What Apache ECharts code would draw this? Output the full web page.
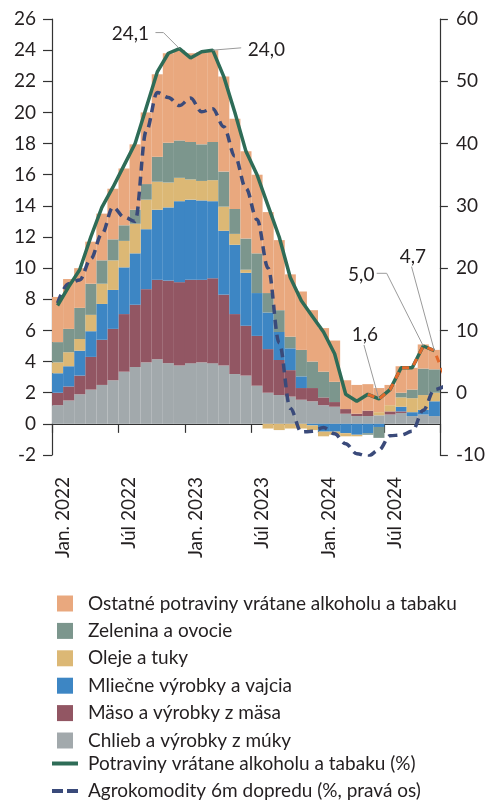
<!DOCTYPE html>
<html>
<head>
<meta charset="utf-8">
<script src="https://cdn.jsdelivr.net/npm/echarts@6/dist/echarts.min.js"></script>
<style>
  html, body { margin: 0; padding: 0; background: #fff; }
  #chart { width: 488px; height: 801px; }
</style>
</head>
<body>
<div id="chart"></div>
<script>
// mesiace (os x)
const years = [2022, 2023, 2024];
const monthNames = ['Jan.', 'Feb.', 'Mar.', 'Apr.', 'Máj', 'Jún', 'Júl', 'Aug.', 'Sep.', 'Okt.', 'Nov.', 'Dec.'];
const categories = [];
years.forEach(y => monthNames.forEach(m => categories.push(m + ' ' + y)));

// príspevky zložiek (p. b.)
const chlieb = [1.2, 1.5, 1.9, 2.2, 2.5, 2.8, 3.35, 3.65, 3.95, 4.15, 3.9, 3.75, 3.9, 3.95, 3.9, 3.75, 3.2, 3.1, 2.45, 2.0, 1.85, 1.75, 1.55, 1.45, 1.2, 1.1, 0.65, 0.5, 0.5, 0.55, 0.6, 0.7, 0.5, 0.6, 0.5];
const maso = [0.8, 0.9, 1.2, 2.1, 2.9, 3.3, 3.7, 4.0, 4.7, 5.1, 5.3, 5.35, 5.35, 5.3, 5.45, 4.55, 3.85, 3.2, 3.2, 2.8, 2.25, 1.7, 0.75, 0.85, 0.5, 0.3, 0.3, 0.15, 0.35, 0, 0.2, 0.1, 0, 0, 0];
const mliecne = [1.25, 1.3, 1.6, 1.65, 2.3, 2.5, 3.0, 3.3, 3.85, 4.5, 4.7, 5.2, 5.15, 5.1, 4.95, 4.1, 4.45, 3.4, 2.75, 2.35, 1.8, 1.4, 0.75, -0.1, -0.5, -0.5, -0.6, -0.7, -0.6, -0.2, 0, 0.3, 0.25, 0.3, 0.95];
const oleje = [0.7, 0.9, 0.75, 1.05, 1.3, 1.9, 1.7, 1.9, 1.9, 1.8, 1.6, 1.5, 1.3, 1.25, 1.35, 1.55, 0.7, 0.2, 0, -0.3, -0.4, -0.3, -0.3, -0.3, -0.3, -0.2, -0.2, -0.1, 0, 0.2, 0.4, 0.6, 0.9, 0.95, 0.55];
const zelenina = [1.3, 1.5, 2.0, 2.0, 1.5, 1.35, 1.0, 0.9, 1.0, 1.6, 2.55, 2.4, 2.4, 2.35, 2.45, 2.25, 1.6, 2.0, 2.55, 1.25, 1.4, 0.75, 1.7, 1.7, 1.65, 1.3, 0, 0, -0.1, -0.7, 0, 0.3, 0.55, 1.7, 1.5];
const ostatne = [2.9, 3.2, 2.55, 2.7, 3.0, 3.25, 3.65, 4.2, 4.6, 5.3, 5.75, 5.8, 5.7, 5.9, 5.9, 6.1, 5.8, 5.6, 5.05, 5.2, 4.5, 4.0, 3.75, 3.3, 2.8, 2.65, 1.85, 1.85, 1.7, 1.55, 1.3, 1.7, 1.4, 1.55, 1.25];

// potraviny spolu (%)
const potraviny = [7.6, 8.8, 9.9, 12.0, 13.9, 15.2, 16.6, 18.0, 20.3, 22.6, 23.8, 24.1, 23.5, 23.9, 24.0, 22.3, 20.0, 17.5, 16.0, 14.0, 12.0, 9.4, 7.9, 6.9, 5.9, 4.5, 1.9, 1.45, 1.9, 1.6, 2.2, 3.6, 3.6, 5.0, 4.7];
// oranžová prerušovaná čiara (posledné mesiace)
const potravinyNove = [null, null, null, null, null, null, null, null, null, null, null, null, null, null, null, null, null, null, null, null, null, null, null, null, null, null, null, null, 1.9, 1.6, 2.2, 3.6, 3.6, 5.0, 4.7, 2.9];
// agrokomodity posunuté o 6m (pravá os)
const agro = [14.4, 17.5, 18.1, 21.5, 25.5, 29.8, 28.2, 27.5, 42.0, 48.2, 47.4, 46.1, 47.3, 45.1, 45.6, 42.7, 38.0, 32.8, 27.8, 20.0, 8.0, -2.5, -6.3, -6.2, -5.6, -6.6, -8.2, -9.8, -10.2, -9.2, -6.9, -6.8, -6.2, -2.8, 0.5, 1.1];

// popisky hodnôt
const annotIdx = [11, 14, 29, 33, 34];
const annotText = ['24,1', '24,0', '1,6', '5,0', '4,7'];

const font = 'Lato, "Noto Sans", sans-serif';
const textColor = '#231f20';

const barNames = [
    'Chlieb a výrobky z múky',
    'Mäso a výrobky z mäsa',
    'Mliečne výrobky a vajcia',
    'Oleje a tuky',
    'Zelenina a ovocie',
    'Ostatné potraviny vrátane alkoholu a tabaku'
];
const barData = [chlieb, maso, mliecne, oleje, zelenina, ostatne];
const barColors = ['#a2a9ac', '#925663', '#3d86c4', '#dcb875', '#7c968d', '#e9a87e'];
const lineName = 'Potraviny vrátane alkoholu a tabaku (%)';
const agroName = 'Agrokomodity 6m dopredu (%, pravá os)';

const chart = echarts.init(document.getElementById('chart'));

const barSeries = barData.map((d, i) => ({
    name: barNames[i],
    type: 'bar',
    stack: 'spolu',
    barCategoryGap: '0%',
    data: d,
    itemStyle: { color: barColors[i] },
    emphasis: { disabled: true },
    z: 2
}));

const option = {
    animation: false,
    textStyle: { fontFamily: font },
    grid: { left: 52, right: 42, top: 19, bottom: 346 },
    legend: [
        {
            data: barNames.slice().reverse(),
            orient: 'vertical',
            left: 57,
            top: 594,
            padding: 0,
            itemWidth: 16,
            itemHeight: 16,
            itemGap: 8.4,
            icon: 'rect',
            textStyle: { fontFamily: font, fontSize: 19, color: textColor, padding: [0, 0, 0, 10] },
            selectedMode: false
        },
        {
            data: [
                { name: lineName, icon: 'rect' },
                { name: agroName, icon: 'path://M0,0h11v4h-11z M15,0h11v4h-11z' }
            ],
            orient: 'vertical',
            left: 52,
            top: 754,
            padding: 0,
            height: 60,
            itemWidth: 26,
            itemHeight: 4,
            itemGap: 8.4,
            textStyle: { fontFamily: font, fontSize: 19, color: textColor, padding: [0, 0, 0, 5] },
            selectedMode: false
        }
    ],
    xAxis: [
        {
            type: 'category',
            data: categories,
            max: 34,
            boundaryGap: true,
            axisLine: { show: false, onZero: false },
            axisTick: { show: false },
            axisLabel: {
                interval: 5,
                rotate: 90,
                margin: 22,
                fontSize: 19,
                color: textColor,
                fontFamily: font,
                verticalAlign: 'top',
                lineHeight: 10
            }
        },
        {
            type: 'category',
            data: categories,
            max: 34,
            boundaryGap: true,
            position: 'bottom',
            axisLine: { show: true, onZero: true, lineStyle: { color: '#333', width: 1.2 } },
            axisTick: { show: true, interval: 5, length: 9, lineStyle: { color: '#333', width: 1.2 } },
            axisLabel: { show: false }
        }
    ],
    yAxis: [
        {
            type: 'value',
            min: -2,
            max: 26,
            interval: 2,
            axisLine: { show: true, lineStyle: { color: '#333', width: 1.2 } },
            axisTick: { show: true, length: 9, lineStyle: { color: '#333', width: 1.2 } },
            splitLine: { show: false },
            axisLabel: { fontSize: 19, color: textColor, margin: 16, fontFamily: font }
        },
        {
            type: 'value',
            min: -10,
            max: 60,
            interval: 10,
            position: 'right',
            axisLine: { show: true, lineStyle: { color: '#333', width: 1.2 } },
            axisTick: { show: true, length: 8, lineStyle: { color: '#333', width: 1.2 } },
            splitLine: { show: false },
            axisLabel: { fontSize: 19, color: textColor, margin: 16, fontFamily: font }
        }
    ],
    series: [
        ...barSeries,
        {
            name: lineName,
            type: 'line',
            data: potraviny,
            symbol: 'none',
            lineStyle: { color: '#2e6c57', width: 3.5 },
            itemStyle: { color: '#2e6c57' },
            clip: true,
            z: 5
        },
        {
            name: 'nove',
            type: 'line',
            data: potravinyNove,
            symbol: 'none',
            lineStyle: { color: '#e3692b', width: 3, type: [7, 6] },
            itemStyle: { color: '#e3692b' },
            clip: true,
            z: 6
        },
        {
            name: agroName,
            type: 'line',
            yAxisIndex: 1,
            data: agro,
            symbol: 'none',
            smooth: 0.35,
            smoothMonotone: 'x',
            lineStyle: { color: '#3a4a7a', width: 3.5, type: [9, 6] },
            itemStyle: { color: '#3a4a7a' },
            clip: true,
            z: 4
        }
    ]
};

chart.setOption(option);

// odkazy na popisky: posun textu a zalomenie čiary od bodu
const annotLayout = [
    { tx: -49, ty: -14.5, align: 'center', pts: [[-24, -16], [-16, -16]] },
    { tx: 35, ty: -0.5, align: 'left', pts: [[28.5, -2.3]] },
    { tx: -14, ty: -64, align: 'center', pts: [[-15, -54]] },
    { tx: -62, ty: -71.5, align: 'center', pts: [[-46.6, -72.7], [-36.6, -72.7]] },
    { tx: -21.5, ty: -94, align: 'center', pts: [[-22.8, -84]] }
];

const graphics = [];
annotIdx.forEach((idx, k) => {
    const p = chart.convertToPixel({ xAxisIndex: 0, yAxisIndex: 0 }, [idx, potraviny[idx]]);
    const l = annotLayout[k];
    const pts = l.pts.map(q => [p[0] + q[0], p[1] + q[1]]).concat([[p[0], p[1]]]);
    graphics.push({
        type: 'polyline',
        shape: { points: pts },
        style: { stroke: '#9a9a9a', lineWidth: 1, fill: null },
        z: 10
    });
    graphics.push({
        type: 'text',
        x: p[0] + l.tx,
        y: p[1] + l.ty,
        style: {
            text: annotText[k],
            font: '19px ' + font,
            fill: textColor,
            align: l.align,
            verticalAlign: 'middle'
        },
        z: 10
    });
});
chart.setOption({ graphic: graphics });
</script>
</body>
</html>
